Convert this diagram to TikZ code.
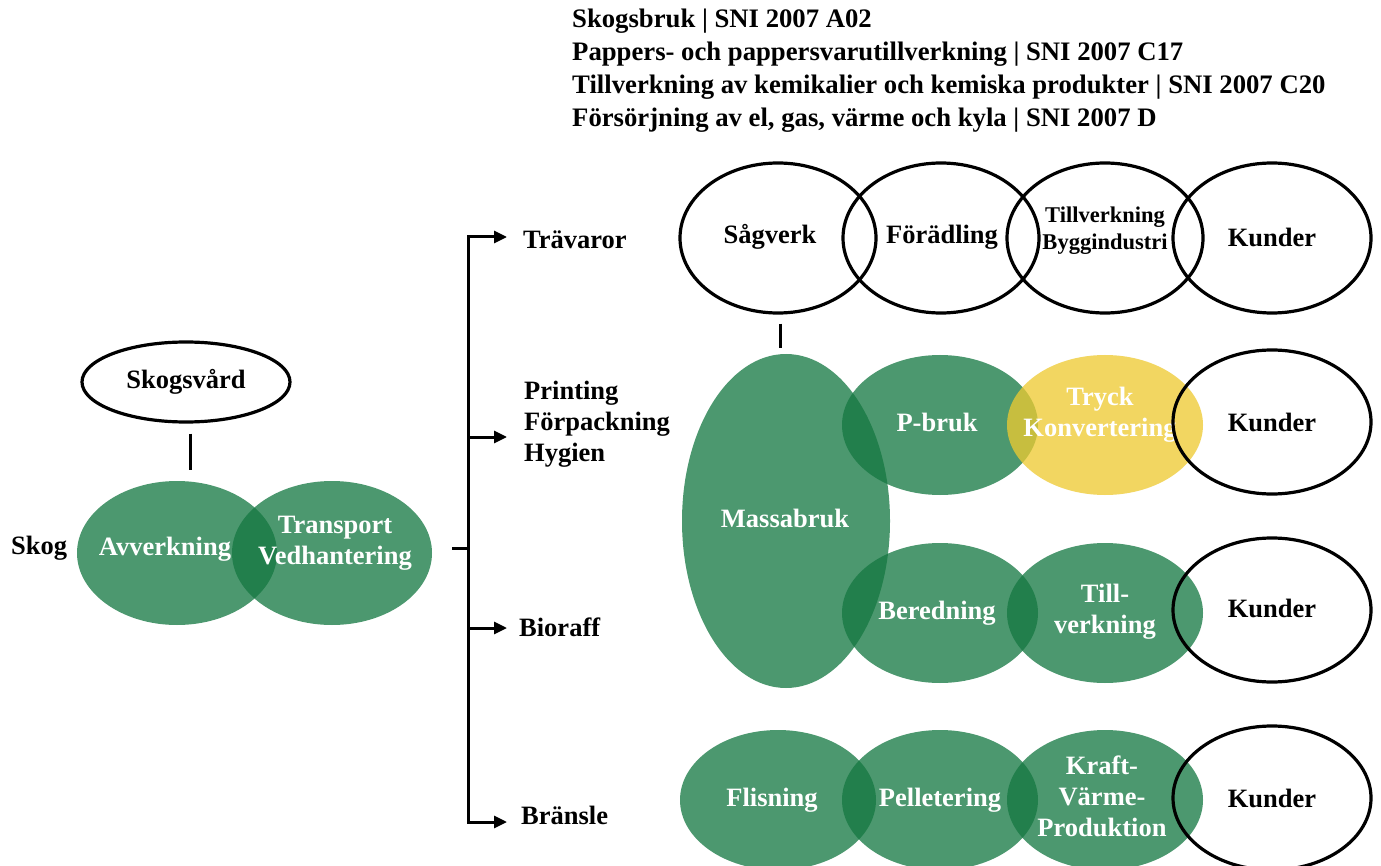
\documentclass[tikz,border=0pt]{standalone}
\usepackage{fontspec}
\setmainfont{Liberation Serif}
\usetikzlibrary{shapes.geometric,arrows.meta,calc}
\definecolor{gfill}{RGB}{21,120,66}
\definecolor{yfill}{RGB}{238,202,48}
\begin{document}
\begin{tikzpicture}[x=1pt,y=-1pt,
  txt/.style={font=\bfseries\fontsize{26.5}{31}\selectfont, inner sep=0pt, align=center},
  smalltxt/.style={font=\bfseries\fontsize{22.5}{27}\selectfont, inner sep=0pt, align=center},
  wtxt/.style={txt, text=white},
  hdr/.style={font=\bfseries\fontsize{26.7}{31}\selectfont, inner sep=0pt, anchor=base west},
  ell/.style 2 args={ellipse, minimum width=#1, minimum height=#2, inner sep=0pt},
  green/.style={fill=gfill, fill opacity=0.76, draw=none},
  yellow/.style={fill=yfill, fill opacity=0.76, draw=none},
  outl/.style={draw=black, line width=3.2pt, fill=none},
  conn/.style={draw=black, line width=3pt},
  arr/.style={draw=black, line width=3pt, -{Triangle[length=13pt,width=12pt]}},
  arr2/.style={draw=black, line width=3pt, {Triangle[length=13pt,width=12pt]}-{Triangle[length=13pt,width=12pt]}}
]
\useasboundingbox (0,0) rectangle (1381,866);
\fill[white] (0,0) rectangle (1381,866);

% header
\node[hdr] (h1) at (572,28) {Skogsbruk | SNI 2007 A02};
\node[hdr] (h2) at (572,61) {Pappers- och pappersvarutillverkning | SNI 2007 C17};
\node[hdr] (h3) at (572,94) {Tillverkning av kemikalier och kemiska produkter | SNI 2007 C20};
\node[hdr] (h4) at (572,127) {Försörjning av el, gas, värme och kyla | SNI 2007 D};

% left part
\node[ell={208}{80}, outl] (skv) at (186,382) {};
\node[txt] (skvT) at (skv) {Skogsvård};
\node[ell={200}{144}, green] (avv) at (177,553) {};
\node[wtxt] (avvT) at (165,549) {Avverkning};
\node[ell={200}{144}, green] (tra) at (332,553) {};
\node[wtxt] (traT) at (335,543) {Transport\\Vedhantering};
\node[txt, anchor=west] (skog) at (11,548) {Skog};
\draw[conn] ($(skv.south)+(4,10)$) -- ($(avv.north)+(13,-11)$);

% bracket
\coordinate (tick) at (452,548);
\coordinate (bM) at (468,548);
\coordinate (bT) at (468,237);
\coordinate (bP) at (468,437);
\coordinate (bB) at (468,628);
\coordinate (bN) at (468,822);
\coordinate (aT) at (507,237);
\coordinate (aP) at (507,437);
\coordinate (aB) at (507,628);
\coordinate (aN) at (507,822);
\draw[conn] (tick) -- (bM);
\draw[arr2] (aT) -- (bT) -- (bN) -- (aN);
\draw[arr] (bP) -- (aP);
\draw[arr] (bB) -- (aB);

\node[txt, anchor=west] (trav) at (523,240) {Trävaror};
\node[txt, anchor=west, align=left] (print) at (524,424) {Printing\\Förpackning\\Hygien};
\node[txt, anchor=west] (bio) at (519,627) {Bioraff};
\node[txt, anchor=west] (bran) at (521,815) {Bränsle};

% top row
\node[ell={196}{150}, outl] (sag) at (778,238) {};
\node[txt] (sagT) at (770,237) {Sågverk};
\node[ell={196}{150}, outl] (fora) at (941,238) {};
\node[txt] (foraT) at (942,237) {Förädling};
\node[ell={196}{150}, outl] (till) at (1105,238) {};
\node[smalltxt] (tillT) at (1105,231) {Tillverkning\\Byggindustri};
\node[ell={198}{150}, outl] (kun1) at (1272,238) {};
\node[txt] (kun1T) at (1272,237) {Kunder};

% middle
\node[ell={208}{334}, green] (mas) at (786,521) {};
\node[wtxt] (masT) at (785,518) {Massabruk};
\draw[conn] ($(sag.south)+(2,9)$) -- ($(mas.north)+(-6,-6)$);
\node[ell={196}{140}, green] (pbr) at (940,425) {};
\node[wtxt] (pbrT) at (937,422) {P-bruk};
\node[ell={196}{140}, yellow] (try) at (1105,425) {};
\node[wtxt] (tryT) at (1100,415) {Tryck\\Konvertering};
\node[ell={198}{144}, outl] (kun2) at (1272,422) {};
\node[txt] (kun2T) at (1272,422) {Kunder};

\node[ell={196}{140}, green] (ber) at (940,613) {};
\node[wtxt] (berT) at (937,613) {Beredning};
\node[ell={196}{140}, green] (tv) at (1105,613) {};
\node[wtxt] (tvT) at (1105,612) {Till-\\verkning};
\node[ell={198}{144}, outl] (kun3) at (1272,610) {};
\node[txt] (kun3T) at (1272,608) {Kunder};

% bottom
\node[ell={196}{140}, green] (fli) at (778,800) {};
\node[wtxt] (fliT) at (772,800) {Flisning};
\node[ell={196}{140}, green] (pel) at (940,800) {};
\node[wtxt] (pelT) at (940,800) {Pelletering};
\node[ell={196}{140}, green] (kra) at (1105,800) {};
\node[wtxt] (kraT) at (1102,796) {Kraft-\\Värme-\\Produktion};
\node[ell={198}{144}, outl] (kun4) at (1272,798) {};
\node[txt] (kun4T) at (1272,798) {Kunder};
\end{tikzpicture}
\end{document}
